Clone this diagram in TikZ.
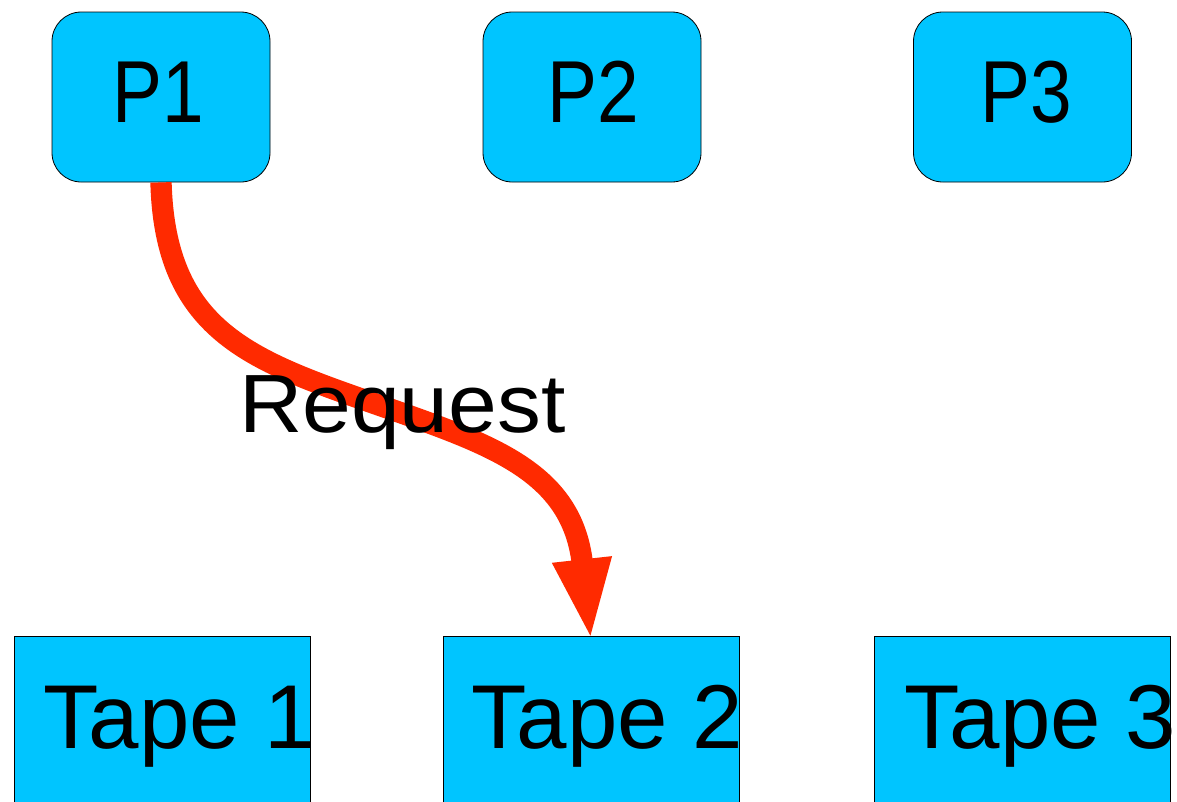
\documentclass[tikz,border=0pt]{standalone}
\usepackage{fontspec}
\setmainfont{Liberation Sans}
\usetikzlibrary{arrows.meta}
\definecolor{boxcyan}{RGB}{0,197,255}
\definecolor{reqred}{RGB}{255,42,0}
\begin{document}
\begin{tikzpicture}[x=0.75pt,y=-0.75pt,
  procbox/.style={draw=black, line width=0.6pt, fill=boxcyan, rounded corners=22pt,
    minimum width=163.5pt, minimum height=127.5pt, inner sep=0pt},
  tapebox/.style={draw=black, line width=0.6pt, fill=boxcyan,
    minimum width=222pt, minimum height=135pt, inner sep=0pt},
  proclabel/.style={anchor=base, font=\fontsize{66}{70}\selectfont, inner sep=0pt},
  tapelabel/.style={anchor=base west, font=\fontsize{68}{72}\selectfont, inner sep=0pt},
  reqlabel/.style={anchor=base west, font=\fontsize{62}{66}\selectfont, inner sep=0pt},
  reqarrow/.style={line width=16pt, draw=reqred, -{Triangle[length=61.5pt,width=40pt]}}
]
\clip (0,0) rectangle (1177,801);
\fill[white] (0,0) rectangle (1177,801);

% processes
\node[procbox] (p1) at (161,97) {};
\node[procbox] (p2) at (592,97) {};
\node[procbox] (p3) at (1022.5,97) {};

% tape drives (running off the lower edge)
\node[tapebox] (t1) at (162.5,726) {};
\node[tapebox] (t2) at (591,726) {};
\node[tapebox] (t3) at (1022.5,726) {};

% request from P1 to Tape 2
\draw[reqarrow] (p1.south) .. controls (165,330) and (250,360) .. (373,403)
  .. controls (490,444) and (572,470) .. ([yshift=-4pt]t2.north);

% labels
\node[proclabel] (lp1) at (158,122) {\scalebox{0.85}[1]{P1}};
\node[proclabel] (lp2) at (593.5,122) {\scalebox{0.85}[1]{P2}};
\node[proclabel] (lp3) at (1026.5,122) {\scalebox{0.85}[1]{P3}};
\node[tapelabel] (lt1) at (43,748) {Tape 1};
\node[tapelabel] (lt2) at (471,748) {Tape 2};
\node[tapelabel] (lt3) at (904,748) {Tape 3};
\node[reqlabel] (lreq) at (239,432) {\scalebox{1.06}[1]{Request}};
\end{tikzpicture}
\end{document}
